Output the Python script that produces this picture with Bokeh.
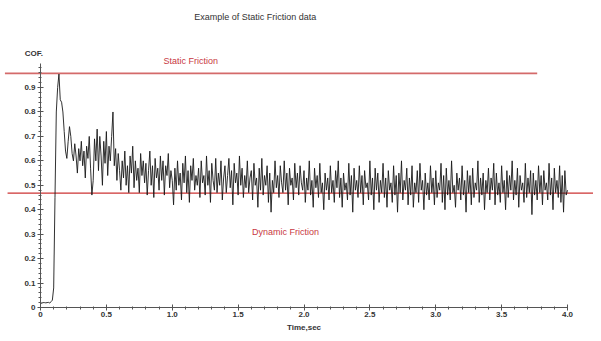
import numpy as np
from bokeh.plotting import figure
from bokeh.models import Label, FixedTicker, ColumnDataSource, PrintfTickFormatter
from bokeh.embed import file_html
from bokeh.resources import INLINE

# ---- data ----
sample_interval = 0.01  # s
cof = [
    0.015, 0.018, 0.020, 0.020, 0.019, 0.020, 0.021, 0.018, 0.024, 0.030, 0.080, 0.450, 0.800, 0.900, 0.955, 0.850, 0.840, 0.800, 0.720, 0.640,
    0.610, 0.680, 0.740, 0.700, 0.630, 0.600, 0.670, 0.620, 0.550, 0.650, 0.600, 0.680, 0.580, 0.640, 0.530, 0.660, 0.610, 0.700, 0.570, 0.460,
    0.520, 0.690, 0.600, 0.730, 0.560, 0.700, 0.620, 0.500, 0.680, 0.590, 0.720, 0.540, 0.660, 0.600, 0.700, 0.800, 0.580, 0.650, 0.520, 0.630,
    0.560, 0.480, 0.600, 0.530, 0.640, 0.500, 0.580, 0.470, 0.620, 0.550, 0.660, 0.490, 0.600, 0.520, 0.570, 0.470, 0.630, 0.540, 0.600, 0.510,
    0.590, 0.460, 0.560, 0.640, 0.500, 0.580, 0.450, 0.610, 0.530, 0.570, 0.480, 0.620, 0.520, 0.600, 0.460, 0.580, 0.540, 0.630, 0.490, 0.560,
    0.520, 0.420, 0.570, 0.480, 0.600, 0.500, 0.550, 0.440, 0.590, 0.510, 0.620, 0.470, 0.560, 0.430, 0.580, 0.520, 0.610, 0.480, 0.540, 0.500,
    0.570, 0.450, 0.600, 0.510, 0.540, 0.460, 0.620, 0.500, 0.560, 0.430, 0.590, 0.520, 0.480, 0.610, 0.470, 0.550, 0.500, 0.600, 0.440, 0.530,
    0.580, 0.470, 0.540, 0.610, 0.490, 0.560, 0.420, 0.590, 0.510, 0.550, 0.460, 0.620, 0.500, 0.570, 0.450, 0.540, 0.490, 0.600, 0.470, 0.530,
    0.560, 0.440, 0.590, 0.500, 0.530, 0.410, 0.570, 0.480, 0.610, 0.460, 0.540, 0.500, 0.580, 0.430, 0.550, 0.390, 0.520, 0.470, 0.600, 0.490,
    0.540, 0.450, 0.580, 0.510, 0.470, 0.600, 0.480, 0.550, 0.420, 0.570, 0.500, 0.530, 0.440, 0.590, 0.490, 0.550, 0.460, 0.580, 0.510, 0.480,
    0.560, 0.430, 0.530, 0.480, 0.600, 0.460, 0.520, 0.410, 0.570, 0.490, 0.540, 0.450, 0.590, 0.470, 0.510, 0.400, 0.550, 0.480, 0.530, 0.440,
    0.580, 0.470, 0.520, 0.430, 0.560, 0.490, 0.600, 0.450, 0.530, 0.410, 0.550, 0.480, 0.510, 0.440, 0.590, 0.460, 0.540, 0.390, 0.570, 0.480,
    0.520, 0.450, 0.580, 0.470, 0.540, 0.420, 0.560, 0.490, 0.510, 0.440, 0.600, 0.460, 0.530, 0.400, 0.570, 0.480, 0.550, 0.430, 0.520, 0.470,
    0.590, 0.450, 0.530, 0.410, 0.560, 0.480, 0.510, 0.430, 0.580, 0.460, 0.540, 0.390, 0.550, 0.470, 0.600, 0.440, 0.520, 0.480, 0.570, 0.420,
    0.530, 0.460, 0.580, 0.410, 0.510, 0.470, 0.560, 0.430, 0.590, 0.480, 0.520, 0.400, 0.550, 0.460, 0.510, 0.440, 0.580, 0.470, 0.530, 0.420,
    0.560, 0.450, 0.510, 0.480, 0.590, 0.430, 0.540, 0.400, 0.570, 0.460, 0.520, 0.440, 0.600, 0.470, 0.500, 0.410, 0.550, 0.480, 0.530, 0.440,
    0.580, 0.460, 0.520, 0.390, 0.560, 0.470, 0.540, 0.420, 0.570, 0.450, 0.510, 0.480, 0.600, 0.430, 0.530, 0.460, 0.550, 0.400, 0.520, 0.470,
    0.570, 0.440, 0.530, 0.480, 0.590, 0.420, 0.550, 0.460, 0.510, 0.430, 0.580, 0.470, 0.520, 0.400, 0.560, 0.450, 0.540, 0.480, 0.600, 0.440,
    0.520, 0.460, 0.570, 0.410, 0.540, 0.480, 0.510, 0.430, 0.590, 0.450, 0.530, 0.470, 0.560, 0.380, 0.550, 0.460, 0.520, 0.440, 0.580, 0.470,
    0.540, 0.420, 0.560, 0.480, 0.510, 0.440, 0.590, 0.460, 0.530, 0.400, 0.570, 0.470, 0.520, 0.450, 0.580, 0.430, 0.540, 0.390, 0.560, 0.460,
    0.480,
]
time_s = np.round(np.arange(len(cof)) * sample_interval, 2)

static_level = 0.958
static_x = [-0.27, 3.77]
dynamic_level = 0.468
dynamic_x = [-0.25, 4.30]

x_ticks = [0.0, 0.5, 1.0, 1.5, 2.0, 2.5, 3.0, 3.5, 4.0]
y_ticks = [0.0, 0.1, 0.2, 0.3, 0.4, 0.5, 0.6, 0.7, 0.8, 0.9]

title_text = "Example of Static Friction data"
x_label = "Time,sec"
y_label = "COF."

# ---- figure ----
p = figure(width=593, height=333, output_backend="svg", toolbar_location=None,
           x_range=(-0.3036, 4.1973), y_range=(-0.1064, 1.2561),
           min_border_left=0, min_border_right=0, min_border_top=0, min_border_bottom=0)
p.outline_line_color = None
p.xgrid.visible = False
p.ygrid.visible = False
p.background_fill_color = "white"

red_text = "#c8383f"

# friction reference lines
p.line(static_x, [static_level] * 2, line_color="#d46a6a", line_width=1.6)
p.line(dynamic_x, [dynamic_level] * 2, line_color="#cc3333", line_width=1.3)

# signal
src = ColumnDataSource(dict(t=time_s, cof=cof))
p.line("t", "cof", source=src, line_color="#1a1a1a", line_width=0.9)

# axes
font = "Liberation Sans"
xa = p.xaxis[0]
xa.fixed_location = 0
xa.bounds = (0, 4.0)
xa.ticker = FixedTicker(ticks=x_ticks, minor_ticks=list(np.round(np.arange(0, 4.01, 0.1), 2)))
xa.formatter = PrintfTickFormatter(format="%.1f")
xa.major_label_overrides = {0: "0"}
xa.axis_label = x_label
ya = p.yaxis[0]
ya.fixed_location = 0
ya.bounds = (0, 1.0)
ya.ticker = FixedTicker(ticks=y_ticks, minor_ticks=list(np.round(np.arange(0, 1.0, 0.02), 2)))
ya.formatter = PrintfTickFormatter(format="%.1f")
ya.major_label_overrides = {0: "0"}

for ax in (xa, ya):
    ax.axis_line_color = "#555555"
    ax.axis_line_width = 1
    ax.major_tick_line_color = "#555555"
    ax.minor_tick_line_color = "#555555"
    ax.major_tick_in = 3
    ax.major_tick_out = 3
    ax.minor_tick_in = 1
    ax.minor_tick_out = 2
    ax.major_label_text_font = font
    ax.major_label_text_font_style = "bold"
    ax.major_label_text_font_size = "8px"
    ax.major_label_text_color = "#333333"
    ax.major_label_standoff = 2
    ax.axis_label_text_font = font
    ax.axis_label_text_font_style = "bold"
    ax.axis_label_text_font_size = "8px"
    ax.axis_label_text_color = "#333333"
    ax.axis_label_standoff = 2

# texts
p.add_layout(Label(x=1.63, y=1.19, text=title_text, text_align="center", text_baseline="middle",
                   text_font=font, text_font_size="9px", text_color="#333333"))
p.add_layout(Label(x=-0.05, y=1.04, text=y_label, text_align="center", text_baseline="middle",
                   text_font=font, text_font_size="8px", text_font_style="bold", text_color="#333333"))
p.add_layout(Label(x=1.14, y=1.01, text="Static Friction", text_align="center", text_baseline="middle",
                   text_font=font, text_font_size="9px", text_color=red_text))
p.add_layout(Label(x=1.86, y=0.31, text="Dynamic Friction", text_align="center", text_baseline="middle",
                   text_font=font, text_font_size="9px", text_color=red_text))

open("out.html", "w").write(file_html(p, INLINE))
